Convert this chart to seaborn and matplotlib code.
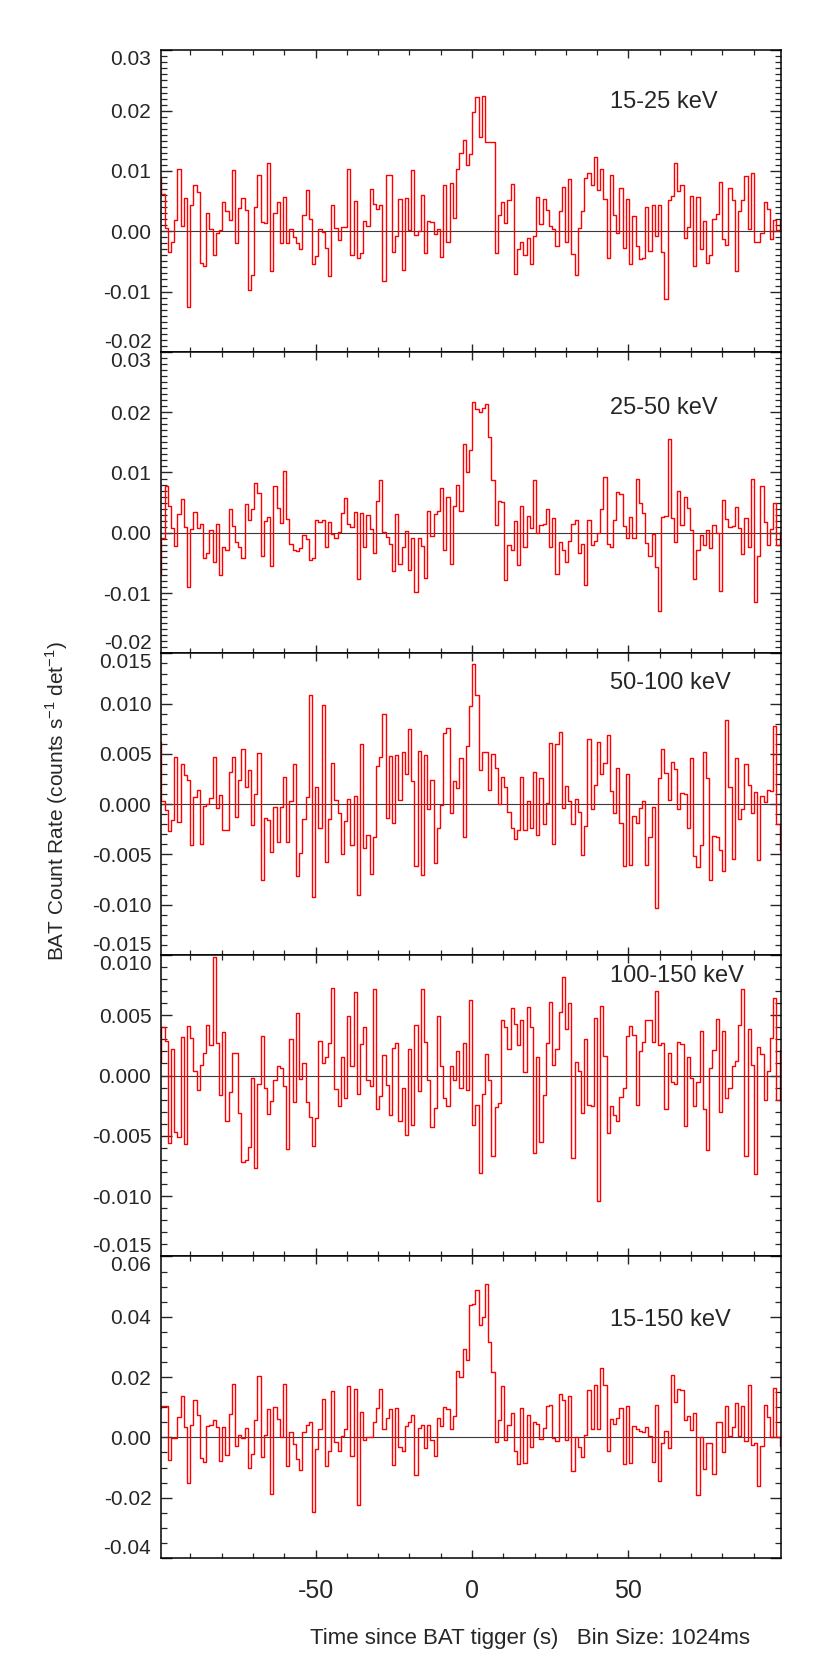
import numpy as np
import pandas as pd
import matplotlib
matplotlib.use("Agg")
import matplotlib.pyplot as plt
from matplotlib.ticker import FixedLocator, MultipleLocator, FormatStrFormatter
import seaborn as sns

# Swift/BAT light curves, values in units of 1e-3 counts/s/det
bin_size = 1.024
t_start = -100.32

rate_15_25 = [
    8.8, 6.2, 0.5, -3.5, -1.8, 1.8, 10.4, 0.8, 5.5, -12.6, 4.4, 7.6, 6.5, -5.2, -5.7, 3.0, 0.4, -3.9,
    -0.3, 0.2, 4.8, 3.3, 1.8, 10.1, -1.9, 3.9, 5.5, 3.5, -9.7, -7.3, 4.1, 9.4, 1.5, 1.3, 11.3, -6.6,
    3.0, 4.9, -2.0, 5.6, -2.0, 0.4, -1.0, -1.9, -3.0, 2.7, 6.8, 2.0, -5.5, -4.1, 0.4, -0.2, -2.7, -7.5,
    4.3, 0.5, -1.4, 0.7, 0.7, 10.3, -4.0, 5.0, -4.4, -3.6, 1.7, 0.8, 7.0, 4.5, 3.7, 4.4, -8.2, 9.3,
    9.4, -3.4, -0.8, 5.4, -6.5, 5.5, 0.2, 10.1, -0.6, 0.0, 6.0, -3.6, 1.7, 1.5, -0.5, 0.4, -4.3, 7.7,
    -1.8, 8.0, 2.2, 10.4, 13.0,
    15.2, 11.0, 12.8, 19.8, 22.2, 15.7, 22.5, 14.8, 14.8, 14.8, -3.6, 2.7, 4.8, 1.4, 5.1, 7.8, -7.1,
    -2.9, -1.7, -3.9, -1.2, -5.5, -0.8, 5.7, 1.2, 5.4, 3.6, 0.9, 0.4, -2.5, 3.4, 7.3, -1.8, 8.7, -3.8,
    -7.3, 0.6, 3.3, 8.8, 9.7, 7.6, 12.3, 6.9, 10.3, 5.4, -4.4, 9.4, 2.7, -0.3, 7.2, -2.7, 5.3, -5.5,
    2.5, -2.4, -4.6, -4.4, 4.0, -3.3, 4.4, -0.8, 4.3, -3.5, -11.3, 5.2, 5.8, 11.3, 6.7, 7.6, -1.2, 0.7,
    5.8, -5.7, 5.6, -2.9, 1.7, -5.2, -3.9, 2.0, 2.9, 8.1, -1.3, -2.2, 7.1, 5.2, -6.6, 3.3, 5.1, 9.2,
    0.3, 9.7, -1.7, -1.7, -0.3, 4.9, 3.7, -1.3, 1.9, 0.2, 1.9,
]

rate_25_50 = [
    -6.9, -0.9, 7.8, 4.4, 0.8, -2.2, 3.1, 5.6, 1.0, -9.0, 0.6, 3.5, 0.8, 1.4, -4.1, -3.4, 0.5, -4.9,
    1.4, -7.0, -2.4, -2.8, 3.9, 1.2, -1.5, -2.3, -4.1, 4.8, 2.1, 4.0, 8.2, 6.6, -3.8, 2.0, 2.7, -5.5,
    7.8, 4.1, 1.6, 10.2, 2.3, -1.9, -2.8, -3.0, -2.5, -0.4, -1.1, -4.5, -4.2, 2.2, 1.8, 2.2, -2.4, 1.8,
    -0.2, -0.9, 0.2, 3.3, 5.8, 1.5, 0.9, 3.4, -7.7, 3.2, -2.3, 2.9, 0.7, -3.3, 5.3, 8.8, 0.2, -0.7,
    -1.9, -6.3, 3.1, -5.2, -2.4, 0.3, -6.2, -0.9, -9.8, -0.9, -2.2, -7.5, 3.6, -0.6, 3.1, 3.6, 7.4,
    -2.8, 6.0, -5.2, 4.5, 7.9, 3.6,
    14.8, 10.0, 13.8, 21.7, 20.6, 20.0, 20.7, 21.4, 15.9, 8.7, 1.3, 5.2, 5.1, -7.9, -2.1, -2.8, 2.0,
    -5.3, 4.4, -2.3, 2.8, 0.8, 8.8, -0.1, 1.3, 1.5, 3.9, -2.4, 2.5, -6.8, -1.6, -2.8, -4.9, -1.4, 1.4,
    2.1, -3.3, -1.8, -8.7, 2.1, -2.1, -1.4, 0.0, 4.0, 9.3, -1.9, -2.3, 2.1, 6.8, 6.4, 1.1, -0.9, 2.6,
    -0.9, 8.9, 5.0, 3.3, -1.7, -3.9, -0.2, -5.6, -12.9, 2.7, 2.8, 15.5, 2.5, -1.5, 6.9, 1.3, 6.0, 4.1,
    0.4, -7.7, -2.8, -0.4, -2.0, 0.4, -2.6, 1.3, 0.0, -9.6, 5.4, 2.3, 1.0, 1.1, 4.3, 0.8, -3.5, 2.5,
    -2.4, 9.0, -11.4, -3.8, 7.7, 1.8, -2.1, 0.7, 5.0, -2.0, 0.2,
]

rate_50_100 = [
    6.2, 0.3, -0.6, -2.7, -1.6, 4.7, -1.8, 4.0, 2.9, 2.4, -4.1, 0.7, 1.4, -4.0, -0.2, 0.0, 0.6, 4.7,
    -0.4, 0.9, -2.6, -2.6, 3.2, 4.7, -1.3, 2.4, 5.5, 1.7, 3.4, -2.1, 1.0, 5.1, -7.5, -1.4, -1.6, -4.8,
    -0.3, -3.8, -0.3, 2.7, -3.8, 0.3, 4.0, -7.1, -4.9, -1.5, 0.7, 10.9, -9.2, 1.7, -2.4, 9.9, -5.8,
    -1.5, 4.1, 0.4, -0.9, -5.0, -1.7, 0.5, -4.1, 0.8, -9.0, 6.0, -4.4, -3.1, -6.9, -3.3, 3.8, 4.7, 9.0,
    -1.4, 4.8, -1.9, 4.9, 0.4, 5.2, 3.0, 7.5, 2.3, -6.2, 5.3, -7.0, 4.9, -0.5, 2.4, -5.9, -2.4, -0.1,
    7.1, 7.6, -0.9, 2.3, 1.6, 4.6, -3.3, 5.8, 9.8, 13.9,
    10.9, 3.4, 5.2, 5.2, 1.4, 5.0, 3.6, 0.0, 2.7, 1.7, -0.8, -2.4, -3.5, -2.6, 2.7, -2.6, 0.3, -2.4,
    3.2, -3.1, 2.6, -2.0, 0.1, 6.1, -4.0, 6.0, 7.2, -0.4, 1.8, 0.3, -2.0, 0.5, -0.8, -5.1, -2.2, 6.5,
    -0.5, 1.9, 6.2, 3.0, 4.1, 6.9, 1.3, -0.9, 3.6, -1.9, -6.2, 3.0, -6.1, -1.2, -1.9, -0.4, 0.3, -6.1,
    -3.3, -0.3, -10.3, 2.6, 5.5, 3.1, 0.4, 4.2, 3.5, -0.5, 1.1, 1.0, -2.4, 4.6, -5.2, -6.3, -4.1, 5.2,
    2.6, -7.5, -3.2, -3.3, -4.6, -6.6, 8.4, 1.7, -5.5, 4.6, -1.5, -0.5, 4.0, 1.9, -0.9, 1.2, -5.6, 0.8,
    0.2, 1.4, 1.3, 7.8, -2.0, -4.6,
]

rate_100_150 = [
    1.1, 4.0, 2.9, -5.6, 2.2, -4.7, -5.1, 3.2, -5.7, 4.1, 3.1, 0.4, -1.2, 0.9, 1.9, 4.2, 2.5, 9.8,
    2.7, -1.6, 3.6, -3.8, -1.4, 1.9, 1.9, -3.1, -7.2, -7.0, -5.9, -0.2, -7.7, -0.7, 3.3, -1.0, -3.2,
    -2.1, -0.4, 0.8, 0.6, -0.9, -6.1, 3.0, -2.2, 5.2, -0.3, 1.0, -2.2, -3.4, -5.8, -3.5, 2.9, 1.0, 1.5,
    2.7, 7.3, -1.1, -2.5, 1.5, -1.9, 4.9, 0.8, 6.9, -1.5, 2.6, 4.0, -0.4, -0.9, 7.2, -2.8, -1.7, 1.7,
    -0.8, -3.3, 2.3, 2.7, -3.8, -1.0, -4.9, 2.2, -4.1, 4.2, -1.3, 7.2, 2.8, -0.4, -4.3, -2.7, 4.9, 0.8,
    -1.9, -2.5, 0.8, -0.4, 2.0, -1.0,
    2.7, -1.2, 6.3, -4.1, -2.4, -8.1, -1.5, 1.8, -0.4, -6.7, -2.6, -2.3, 4.6, 4.0, 2.2, 5.6, 4.3, 2.5,
    4.6, 0.3, 5.7, 4.0, -6.4, 1.5, -5.5, -1.6, 2.7, 6.1, 0.9, 2.2, 5.3, 8.2, 3.9, 6.0, -6.8, 1.1, 0.4,
    -3.1, 3.0, -2.4, -2.5, 4.8, -10.4, 5.8, 1.6, -4.8, -2.5, -3.3, -3.8, -1.8, -1.0, 3.3, 4.1, 3.4,
    -2.4, 2.0, 2.8, 4.6, 4.6, 2.8, 7.0, 2.5, 2.7, -2.8, 1.9, -0.5, -0.7, 2.8, 2.6, -4.2, 1.5, -0.2,
    -2.5, -0.5, 3.7, -2.8, -6.2, 0.6, 2.1, 4.7, -3.0, 3.7, -1.9, -1.0, 0.8, 1.2, 4.2, 7.2, -6.7, 3.9,
    0.9, -8.2, 2.4, 1.8, -2.0, 0.4, 3.1, 6.4, -2.0, 2.1, -5.4,
]

rate_15_150 = [
    9.6, 10.5, 10.5, -7.4, -0.1, -0.1, 6.7, 13.6, 3.6, -15.1, 4.0, 12.3, 7.4, -6.9, -8.0, 3.8, 4.0,
    5.9, 3.3, -7.7, 3.3, -6.0, 7.6, 17.8, -2.9, 0.9, -0.3, 3.2, -10.1, -5.6, 5.7, 20.4, -6.5, 0.9, 9.4,
    -18.9, 10.2, 6.1, 0.0, 17.8, -9.6, 1.8, -2.2, -7.0, -10.8, 1.8, 4.1, 5.0, -24.8, -3.9, 2.8, 12.8,
    -9.5, -4.6, 15.5, -1.4, -4.6, 0.6, 2.9, 17.1, -6.2, 16.0, -22.5, 8.3, -0.9, 0.1, 0.1, 5.2, 9.9,
    16.2, 2.7, 6.3, 9.4, -9.1, 9.8, -3.2, -4.6, 3.8, 5.0, 7.4, -12.5, 3.0, 4.0, -3.4, 4.2, -1.0, -6.1,
    6.5, 3.9, 10.2, 9.5, 2.8, 7.0, 21.9, 20.0,
    29.4, 25.6, 43.9, 44.2, 48.8, 37.3, 40.0, 50.9, 31.6, 21.7, -1.4, 5.7, 17.1, -0.9, 4.2, 8.2, -4.4,
    -8.8, 9.9, -8.5, 7.5, -3.1, 5.0, 4.3, -0.6, 3.2, 10.4, 10.6, -0.1, -1.3, 14.3, 12.4, -0.9, 13.6,
    -11.2, 0.0, -3.1, -6.6, 0.9, 15.7, 2.9, 17.5, 2.9, 23.1, 17.5, -4.4, 6.1, 4.4, 6.3, 9.8, -8.8,
    10.5, -8.6, 3.8, 2.8, 2.2, 1.8, 3.5, 0.6, -8.0, 10.8, -14.4, -1.8, 2.0, -3.6, 20.6, 11.7, 16.2,
    15.7, 5.7, 7.1, 2.4, 8.2, -19.1, 0.2, -10.6, -1.8, -1.8, -12.2, 5.0, 5.1, -4.8, 10.3, 0.6, 3.3,
    11.5, 0.6, 10.5, -1.3, 17.3, -2.5, -1.9, -16.2, -2.9, 10.8, 6.7, 0.1, 16.4, 0.1, -2.9, -9.9,
]

band_labels = ["15-25 keV", "25-50 keV", "50-100 keV", "100-150 keV", "15-150 keV"]
band_rates = [rate_15_25, rate_25_50, rate_50_100, rate_100_150, rate_15_150]
ylims = [(-0.02, 0.03), (-0.02, 0.03), (-0.015, 0.015), (-0.015, 0.010), (-0.04, 0.06)]
yticks = [
    [-0.02, -0.01, 0.0, 0.01, 0.02, 0.03],
    [-0.02, -0.01, 0.0, 0.01, 0.02, 0.03],
    [-0.015, -0.010, -0.005, 0.0, 0.005, 0.010, 0.015],
    [-0.015, -0.010, -0.005, 0.0, 0.005, 0.010],
    [-0.04, -0.02, 0.0, 0.02, 0.04, 0.06],
]
yminor = [0.001, 0.001, 0.001, 0.001, 0.005]
yfmt = ["%.2f", "%.2f", "%.3f", "%.3f", "%.2f"]
label_ypos = [0.83, 0.815, 0.903, 0.929, 0.791]

sns.set_style("ticks")
plt.rcParams["font.family"] = ["Liberation Sans", "DejaVu Sans"]
plt.rcParams["axes.unicode_minus"] = False

fig, axes = plt.subplots(5, 1, figsize=(8.3, 16.61), dpi=100, sharex=True,
                         gridspec_kw=dict(hspace=0))
fig.subplots_adjust(left=0.194, right=0.9415, top=0.9697, bottom=0.0620)

for i, ax in enumerate(axes):
    vals = np.array(band_rates[i]) * 1e-3
    edges = t_start + np.arange(len(vals) + 1) * bin_size
    df = pd.DataFrame({"time": edges, "rate": np.append(vals, vals[-1])})
    ax.axhline(0, color="#3a3a3a", lw=0.8, zorder=1)
    sns.lineplot(data=df, x="time", y="rate", ax=ax, color="red", lw=1.0,
                 drawstyle="steps-post", estimator=None, sort=False, zorder=2)
    ax.set_xlim(-99.4, 98.9)
    ax.set_ylim(*ylims[i])
    ax.yaxis.set_major_locator(FixedLocator(yticks[i]))
    ax.yaxis.set_minor_locator(MultipleLocator(yminor[i]))
    ax.yaxis.set_major_formatter(FormatStrFormatter(yfmt[i]))
    ax.xaxis.set_major_locator(MultipleLocator(50))
    ax.xaxis.set_minor_locator(MultipleLocator(10))
    ax.tick_params(axis="y", which="major", direction="in", length=8, width=1.0,
                   left=True, right=True, labelsize=15, pad=7)
    ax.tick_params(axis="y", which="minor", direction="in", length=4, width=0.9,
                   left=True, right=True)
    ax.tick_params(axis="x", which="major", direction="in", length=6, width=1.0,
                   top=True, bottom=True, labelsize=18, pad=15)
    ax.tick_params(axis="x", which="minor", direction="in", length=3.5, width=0.9,
                   top=True, bottom=True)
    for sp in ax.spines.values():
        sp.set_linewidth(1.1)
        sp.set_color("black")
    ax.set_xlabel("")
    ax.set_ylabel("")
    ax.text(0.724, label_ypos[i], band_labels[i], transform=ax.transAxes,
            ha="left", va="center", fontsize=17)
    ticks = ax.yaxis.get_major_ticks()
    ticks[0].label1.set_verticalalignment("bottom")
    ticks[-1].label1.set_verticalalignment("top")

fig.text(0.0687, 0.518, "BAT Count Rate (counts s$^{\\mathregular{-1}}$ det$^{\\mathregular{-1}}$)",
         rotation=90, ha="center", va="center", fontsize=15)
fig.text(0.6386, 0.0138, "Time since BAT tigger (s)   Bin Size: 1024ms",
         ha="center", va="center", fontsize=16)

fig.savefig("out.png", dpi=100)
